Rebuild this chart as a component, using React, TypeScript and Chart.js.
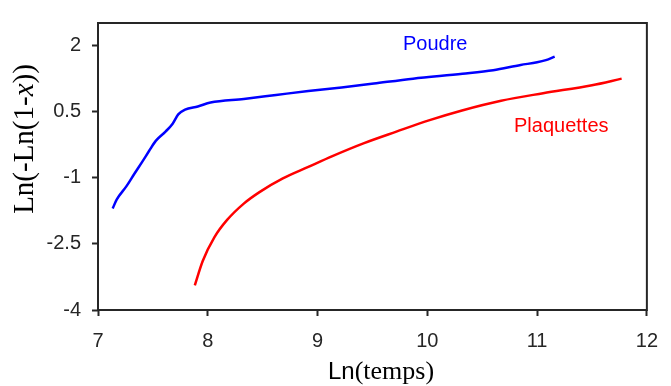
import React, { useEffect, useRef } from "react";
import { Chart, registerables } from "chart.js";

Chart.register(...registerables);

const poudreX = [7.134, 7.17, 7.258, 7.33, 7.401, 7.465, 7.526, 7.615, 7.68, 7.731, 7.793, 7.909, 8.025, 8.328, 8.622, 8.916, 9.219, 9.513, 9.87, 10.32, 10.6, 10.85, 11.0, 11.08, 11.16];
const poudreY = [-1.7, -1.5, -1.2, -0.92, -0.65, -0.4, -0.17, 0.04, 0.22, 0.43, 0.54, 0.61, 0.7, 0.78, 0.87, 0.96, 1.04, 1.13, 1.24, 1.35, 1.43, 1.55, 1.61, 1.66, 1.74];

const plaqX = [7.882, 7.954, 8.061, 8.176, 8.328, 8.471, 8.684, 8.916, 9.13, 9.424, 9.718, 10.021, 10.316, 10.672, 11.055, 11.5, 11.77];
const plaqY = [-3.44, -2.89, -2.35, -1.96, -1.59, -1.33, -1.02, -0.76, -0.52, -0.22, 0.04, 0.3, 0.52, 0.74, 0.91, 1.09, 1.24];

const xTicks = [7, 8, 9, 10, 11, 12];
const yTicks = [-4, -2.5, -1, 0.5, 2];

const SANS = "'Liberation Sans', Arial, sans-serif";
const SERIF = "'Liberation Serif', 'Times New Roman', serif";
const AXIS = "#262626";

const decor = {
  id: "decor",
  afterDraw(chart: any) {
    const { ctx, chartArea: a } = chart;
    ctx.save();
    ctx.strokeStyle = AXIS;
    ctx.lineWidth = 2;
    ctx.strokeRect(a.left, a.top, a.right - a.left, a.bottom - a.top);

    ctx.font = `20px ${SANS}`;
    ctx.textBaseline = "alphabetic";
    ctx.textAlign = "left";
    ctx.fillStyle = "#0000ff";
    ctx.fillText("Poudre", 403, 50);
    ctx.fillStyle = "#ff0000";
    ctx.fillText("Plaquettes", 514, 132);

    ctx.fillStyle = "#000";
    const f1 = `24px ${SANS}`;
    const f2 = `26px ${SERIF}`;
    ctx.font = f1;
    const w1 = ctx.measureText("Ln").width;
    ctx.font = f2;
    const w2 = ctx.measureText("(temps)").width;
    const x = 381 - (w1 + w2) / 2;
    ctx.font = f1;
    ctx.fillText("Ln", x, 379);
    ctx.font = f2;
    ctx.fillText("(temps)", x + w1, 379);

    const parts = [
      { t: "Ln(-Ln(1-", f: `29px ${SERIF}` },
      { t: "x", f: `italic 29px ${SERIF}` },
      { t: "))", f: `29px ${SERIF}` },
    ];
    let total = 0;
    const ws = parts.map((p) => {
      ctx.font = p.f;
      const w = ctx.measureText(p.t).width;
      total += w;
      return w;
    });
    ctx.translate(33, 139);
    ctx.rotate(-Math.PI / 2);
    let px = -total / 2;
    parts.forEach((p, i) => {
      ctx.font = p.f;
      ctx.fillText(p.t, px, 0);
      px += ws[i];
    });
    ctx.restore();
  },
};

export default function App() {
  const ref = useRef<HTMLCanvasElement | null>(null);
  useEffect(() => {
    if (!ref.current) return;
    const chart = new Chart(ref.current, {
      type: "line",
      data: {
        datasets: [
          {
            label: "Poudre",
            data: poudreX.map((x, i) => ({ x, y: poudreY[i] })),
            borderColor: "#0000ff",
            borderWidth: 2.5,
            pointRadius: 0,
            cubicInterpolationMode: "monotone",
            fill: false,
          },
          {
            label: "Plaquettes",
            data: plaqX.map((x, i) => ({ x, y: plaqY[i] })),
            borderColor: "#ff0000",
            borderWidth: 2.5,
            pointRadius: 0,
            cubicInterpolationMode: "monotone",
            fill: false,
          },
        ],
      },
      options: {
        animation: false,
        responsive: false,
        maintainAspectRatio: false,
        layout: { padding: { top: 12, right: 12, left: 0, bottom: 0 } },
        plugins: { legend: { display: false }, tooltip: { enabled: false } },
        scales: {
          x: {
            type: "linear",
            min: 7,
            max: 12,
            afterBuildTicks: (s: any) => {
              s.ticks = xTicks.map((v) => ({ value: v }));
            },
            afterFit: (s: any) => {
              s.height = 76;
            },
            ticks: {
              font: { family: SANS, size: 20 },
              color: AXIS,
              padding: 13,
              maxRotation: 0,
            },
            grid: { drawOnChartArea: false, drawTicks: true, tickLength: 6, tickColor: AXIS, tickWidth: 2 },
            border: { display: false },
          },
          y: {
            type: "linear",
            min: -4,
            max: 2.5,
            afterBuildTicks: (s: any) => {
              s.ticks = yTicks.map((v) => ({ value: v }));
            },
            afterFit: (s: any) => {
              s.width = 98;
            },
            ticks: {
              font: { family: SANS, size: 20 },
              color: AXIS,
              padding: 11,
              callback: (v: any) => String(v),
            },
            grid: { drawOnChartArea: false, drawTicks: true, tickLength: 6, tickColor: AXIS, tickWidth: 2 },
            border: { display: false },
          },
        },
      },
      plugins: [decor],
    });
    return () => chart.destroy();
  }, []);
  return (
    <div style={{ position: "absolute", left: 0, top: 0, width: 671, height: 386, background: "#fff" }}>
      <canvas ref={ref} width={671} height={386} style={{ width: 671, height: 386 }} />
    </div>
  );
}
